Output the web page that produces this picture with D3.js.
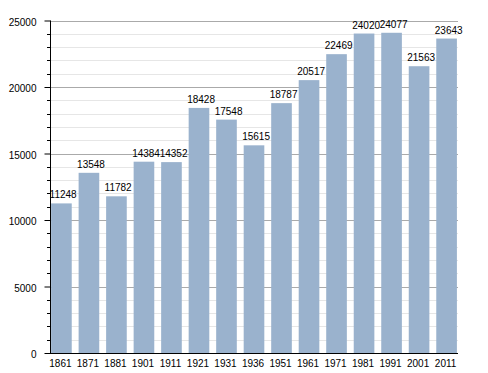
<!DOCTYPE html>
<html><head><meta charset="utf-8">
<script src="https://cdn.jsdelivr.net/npm/d3@7"></script>
<style>body{margin:0;background:#fff}svg{display:block}</style>
</head><body>
<svg id="c" width="488" height="373"></svg>
<script>
const years = ["1861","1871","1881","1901","1911","1921","1931","1936","1951","1961","1971","1981","1991","2001","2011"];
const population = [11248,13548,11782,14384,14352,18428,17548,15615,18787,20517,22469,24020,24077,21563,23643];
const yTicks = [0,5000,10000,15000,20000,25000];

const W=488,H=373, L=50, R=458, T=20.5, B=353;
const svg=d3.select("#c");
const font="'Liberation Sans', Arial, sans-serif";
const x=d3.scaleBand().domain(years).range([L,R]).paddingInner(0.25).paddingOuter(0.04);
const y=d3.scaleLinear().domain([0,25000]).range([B,T]);
const minor=d3.range(0,25001,1000).filter(v=>v%5000!==0);

// minor grid
svg.append("g").selectAll("line").data(minor).join("line")
  .attr("x1",L).attr("x2",R).attr("y1",d=>Math.round(y(d))+0.5).attr("y2",d=>Math.round(y(d))+0.5)
  .attr("stroke","#e6e6e6").attr("stroke-width",1);
// major grid
svg.append("g").selectAll("line").data(yTicks.filter(v=>v>0)).join("line")
  .attr("x1",L).attr("x2",R).attr("y1",d=>Math.round(y(d))+0.5).attr("y2",d=>Math.round(y(d))+0.5)
  .attr("stroke","#aaaaaa").attr("stroke-width",1);

// bars
svg.append("g").selectAll("rect").data(years).join("rect")
  .attr("x",d=>x(d)).attr("width",x.bandwidth())
  .attr("y",(d,i)=>y(population[i])).attr("height",(d,i)=>B-y(population[i]))
  .attr("fill","#9ab2cd");

// value labels
svg.append("g").selectAll("text").data(years).join("text")
  .attr("x",d=>x(d)-1.5).attr("y",(d,i)=>y(population[i])-5)
  .attr("text-anchor","start").attr("font-family",font).attr("font-size",10).attr("fill","#000")
  .text((d,i)=>population[i]);

// y axis
const ya=svg.append("g").attr("transform",`translate(${L+0.5},0)`)
  .call(d3.axisLeft(y).tickValues(yTicks).tickSize(6).tickFormat(d=>d));
ya.select(".domain").remove();
ya.selectAll("line").attr("stroke","#000");
ya.selectAll("text").attr("font-family",font).attr("font-size",10).attr("fill","#000").attr("x",-14).attr("dy","0.45em");
svg.append("g").selectAll("line").data(minor).join("line")
  .attr("x1",L-3).attr("x2",L).attr("y1",d=>Math.round(y(d))+0.5).attr("y2",d=>Math.round(y(d))+0.5)
  .attr("stroke","#000");
svg.append("line").attr("x1",L+0.5).attr("x2",L+0.5).attr("y1",T).attr("y2",B).attr("stroke","#000");

// x axis
const xa=svg.append("g").attr("transform",`translate(0,${B+0.5})`)
  .call(d3.axisBottom(x).tickSize(0).tickPadding(6));
xa.select(".domain").attr("d",`M${L},0H${R}`).attr("stroke","#000");
xa.selectAll("text").attr("font-family",font).attr("font-size",10).attr("fill","#000").attr("x",-1);
</script>
</body></html>
